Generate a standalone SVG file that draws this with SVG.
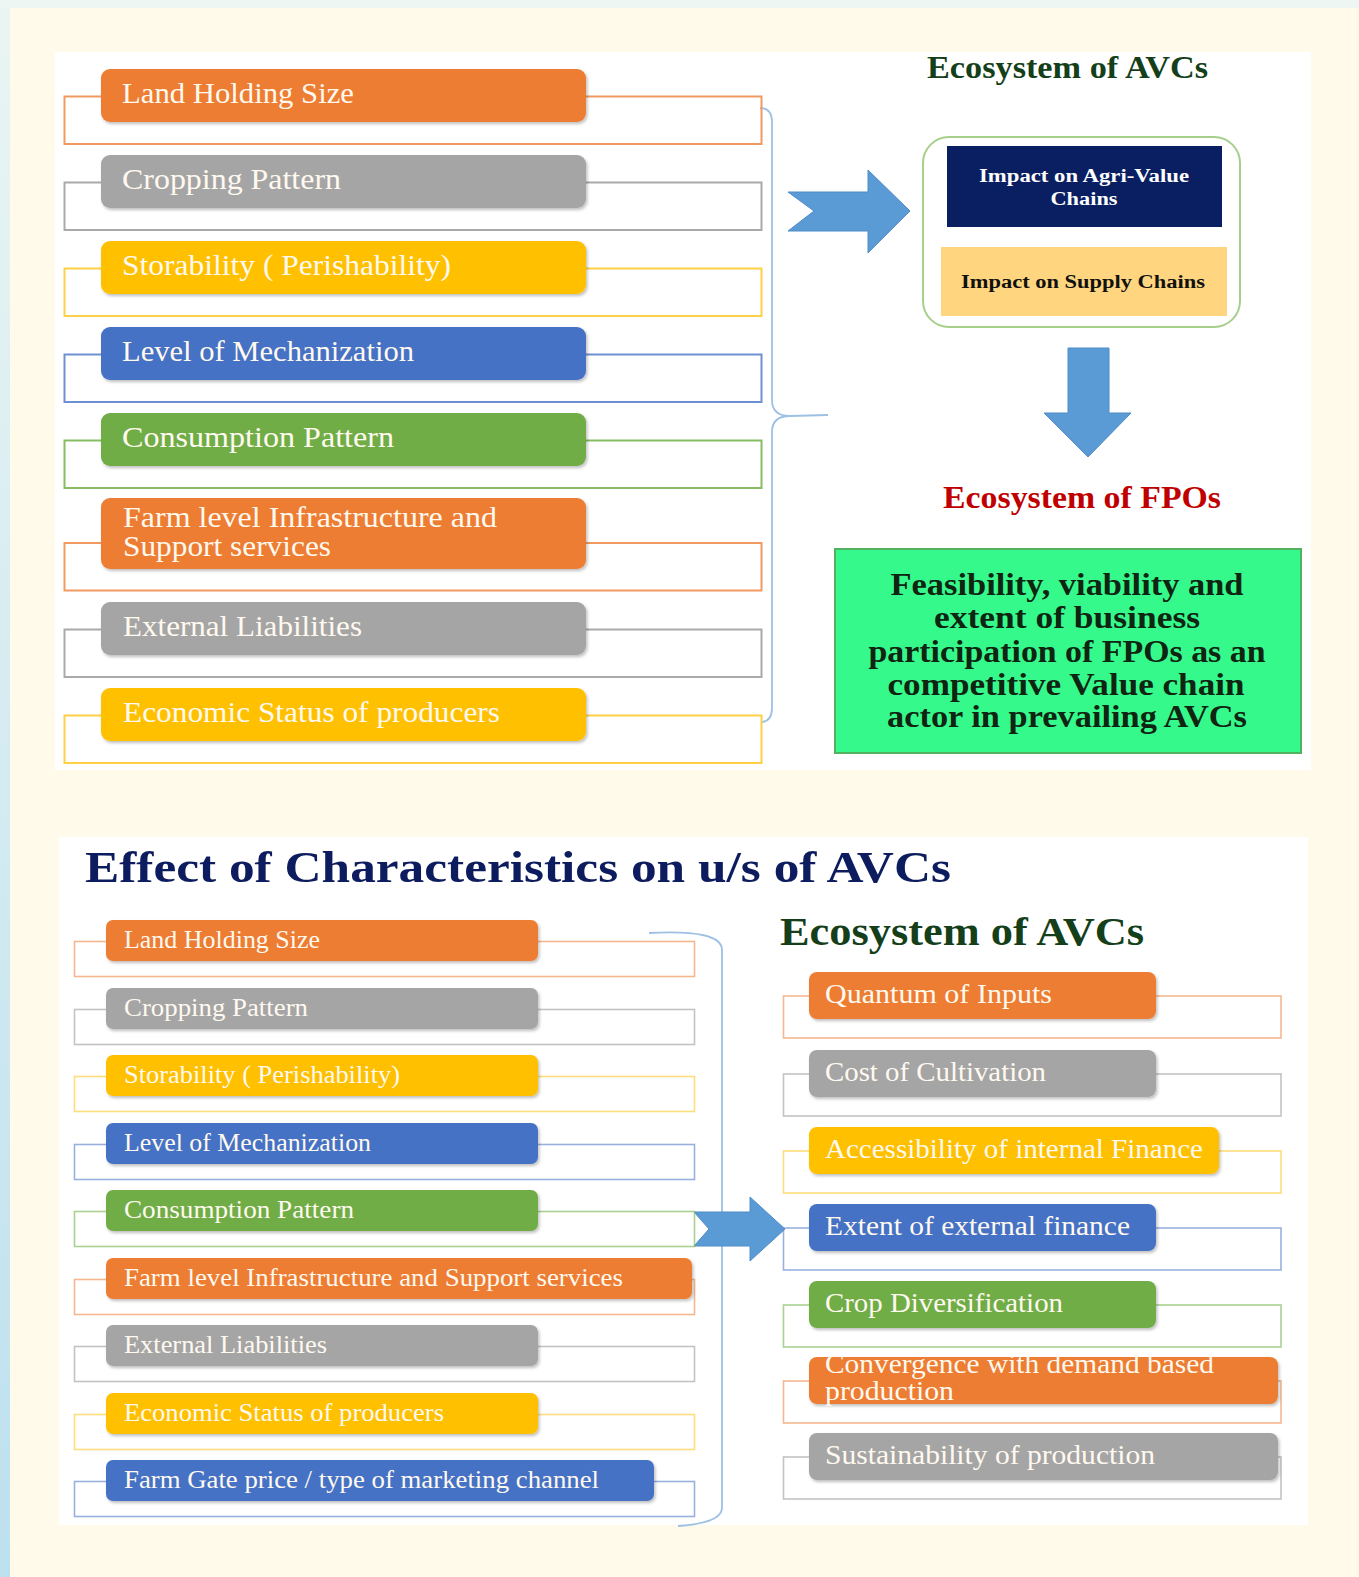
<svg xmlns="http://www.w3.org/2000/svg" width="1359" height="1577" viewBox="0 0 1359 1577">
  <defs>
    <linearGradient id="edge" x1="0" y1="0" x2="0" y2="1">
      <stop offset="0" stop-color="#EAF5F3"/>
      <stop offset="1" stop-color="#BDE0EF"/>
    </linearGradient>
    <filter id="shadow" x="-5%" y="-20%" width="110%" height="150%">
      <feDropShadow dx="1.5" dy="2" stdDeviation="1.5" flood-color="#000" flood-opacity="0.25"/>
    </filter>
    <style>
      .serif { font-family: "Liberation Serif", "Times New Roman", serif; }
      .lbl { font-family: "Liberation Serif", "Times New Roman", serif; fill: #FFF9F0; }
      .bold { font-weight: bold; }
      .p-or { fill: #ED7D31; }
      .p-gr { fill: #A5A5A5; }
      .p-ye { fill: #FFC000; }
      .p-bl { fill: #4472C4; }
      .p-gn { fill: #70AD47; }
      .pill { filter: url(#shadow); }
      .frame { fill: none; stroke-width: 2; }
      .frame2 { fill: none; stroke-width: 1.6; stroke-opacity: 0.7; }
      .s-or { stroke: #F09A62; }
      .s-gr { stroke: #A9A9A9; }
      .s-ye { stroke: #FFCF45; }
      .s-bl { stroke: #6E8FD2; }
      .s-gn { stroke: #86BD62; }
      .brace { fill: none; stroke: #9DC0E4; stroke-width: 1.8; }
      .bigarrow { fill: #5B9BD5; stroke: #4E8CC8; stroke-width: 1; }
    </style>
  </defs>

  <!-- page background -->
  <rect x="0" y="0" width="1359" height="1577" fill="url(#edge)"/>
  <rect x="0" y="0" width="1359" height="8" fill="#EDF6F3"/>
  <rect x="10" y="8" width="1349" height="1569" fill="#FFFAEA"/>

  <!-- white panels -->
  <rect x="55" y="52" width="1256" height="718" fill="#FFFFFF"/>
  <rect x="59" y="837" width="1249" height="688" fill="#FFFFFF"/>

  <!-- connectors: braces and block arrows -->
  <g id="connectors">
    <path class="brace" d="M760,108 Q772,108 772,122 L772,400 Q772,416 790,416 L828,415 M790,416 Q772,416 772,432 L772,708 Q772,721 762,722"/>
    <polygon class="bigarrow" points="788,192 868,192 868,170 910,211 868,253 868,231 788,231 814,211"/>
    <polygon class="bigarrow" points="1068,348 1109,348 1109,413 1131,413 1088,457 1044,413 1068,413"/>
    <path class="brace" d="M649,933 Q722,929 722,950 L722,1508 Q722,1523 678,1526"/>
    <polygon class="bigarrow" points="694,1212 750,1212 750,1197 785,1229 750,1261 750,1246 694,1246 709,1229"/>
  </g>

  <!-- ===== upper panel: characteristics ===== -->
  <g id="top-land">
    <rect class="frame s-or" x="64.5" y="96.5" width="697" height="47.5"/>
    <rect class="pill p-or" x="101" y="69" width="485" height="53" rx="9"/>
    <text class="lbl" x="122" y="103" font-size="29" textLength="232" lengthAdjust="spacingAndGlyphs">Land Holding Size</text>
  </g>
  <g id="top-cropping">
    <rect class="frame s-gr" x="64.5" y="182.5" width="697" height="47.5"/>
    <rect class="pill p-gr" x="101" y="155" width="485" height="53" rx="9"/>
    <text class="lbl" x="122" y="189" font-size="29" textLength="219" lengthAdjust="spacingAndGlyphs">Cropping Pattern</text>
  </g>
  <g id="top-storability">
    <rect class="frame s-ye" x="64.5" y="268.5" width="697" height="47.5"/>
    <rect class="pill p-ye" x="101" y="241" width="485" height="53" rx="9"/>
    <text class="lbl" x="122" y="275" font-size="29" textLength="329" lengthAdjust="spacingAndGlyphs">Storability ( Perishability)</text>
  </g>
  <g id="top-mechanization">
    <rect class="frame s-bl" x="64.5" y="354.5" width="697" height="47.5"/>
    <rect class="pill p-bl" x="101" y="327" width="485" height="53" rx="9"/>
    <text class="lbl" x="122" y="361" font-size="29" textLength="292" lengthAdjust="spacingAndGlyphs">Level of Mechanization</text>
  </g>
  <g id="top-consumption">
    <rect class="frame s-gn" x="64.5" y="440.5" width="697" height="47.5"/>
    <rect class="pill p-gn" x="101" y="413" width="485" height="53" rx="9"/>
    <text class="lbl" x="122" y="447" font-size="29" textLength="272" lengthAdjust="spacingAndGlyphs">Consumption Pattern</text>
  </g>
  <g id="top-infrastructure">
    <rect class="frame s-or" x="64.5" y="543" width="697" height="47.5"/>
    <rect class="pill p-or" x="101" y="498" width="485" height="71" rx="9"/>
    <text class="lbl" x="123" y="527" font-size="29" textLength="374" lengthAdjust="spacingAndGlyphs">Farm level Infrastructure and</text>
    <text class="lbl" x="123" y="556" font-size="29" textLength="208" lengthAdjust="spacingAndGlyphs">Support services</text>
  </g>
  <g id="top-liabilities">
    <rect class="frame s-gr" x="64.5" y="629.5" width="697" height="47.5"/>
    <rect class="pill p-gr" x="101" y="602" width="485" height="53" rx="9"/>
    <text class="lbl" x="123" y="636" font-size="29" textLength="239" lengthAdjust="spacingAndGlyphs">External Liabilities</text>
  </g>
  <g id="top-economic">
    <rect class="frame s-ye" x="64.5" y="715.5" width="697" height="47.5"/>
    <rect class="pill p-ye" x="101" y="688" width="485" height="53" rx="9"/>
    <text class="lbl" x="123" y="722" font-size="29" textLength="377" lengthAdjust="spacingAndGlyphs">Economic Status of producers</text>
  </g>

  <!-- ===== upper panel: right side ===== -->
  <g id="top-ecosystem-avcs">
    <text class="serif bold" x="927" y="78" font-size="32" fill="#153F1A" textLength="281" lengthAdjust="spacingAndGlyphs">Ecosystem of AVCs</text>
  </g>
  <g id="impact-box">
    <rect x="923" y="137" width="317" height="190" rx="26" fill="#FFFFFF" stroke="#A6CF8B" stroke-width="2"/>
    <rect x="947" y="146" width="275" height="81" fill="#0A1F62"/>
    <text class="serif bold" x="1084" y="182" font-size="18" fill="#FFFFFF" text-anchor="middle" textLength="210" lengthAdjust="spacingAndGlyphs">Impact on Agri-Value</text>
    <text class="serif bold" x="1084" y="205" font-size="18" fill="#FFFFFF" text-anchor="middle" textLength="67" lengthAdjust="spacingAndGlyphs">Chains</text>
    <rect x="941" y="247" width="286" height="69" fill="#FFD67F"/>
    <text class="serif bold" x="1083" y="288" font-size="18" fill="#111111" text-anchor="middle" textLength="244" lengthAdjust="spacingAndGlyphs">Impact on Supply Chains</text>
  </g>
  <g id="top-ecosystem-fpos">
    <text class="serif bold" x="943" y="508" font-size="32" fill="#C00000" textLength="278" lengthAdjust="spacingAndGlyphs">Ecosystem of FPOs</text>
  </g>
  <g id="feasibility-box">
    <rect x="835" y="549" width="466" height="204" fill="#35FA8B" stroke="#53B15F" stroke-width="2"/>
    <g class="serif bold" font-size="31" fill="#0F2411" text-anchor="middle">
      <text x="1067" y="595" textLength="353" lengthAdjust="spacingAndGlyphs">Feasibility, viability and</text>
      <text x="1067" y="628" textLength="266" lengthAdjust="spacingAndGlyphs">extent of business</text>
      <text x="1067" y="662" textLength="397" lengthAdjust="spacingAndGlyphs">participation of FPOs as an</text>
      <text x="1066" y="695" textLength="357" lengthAdjust="spacingAndGlyphs">competitive Value chain</text>
      <text x="1067" y="727" textLength="360" lengthAdjust="spacingAndGlyphs">actor in prevailing AVCs</text>
    </g>
  </g>

  <!-- ===== lower panel ===== -->
  <g id="bottom-title">
    <text class="serif bold" x="85" y="882" font-size="45" fill="#0C1C5E" textLength="866" lengthAdjust="spacingAndGlyphs">Effect of Characteristics on u/s of AVCs</text>
  </g>

  <g id="b-land">
    <rect class="frame2 s-or" x="74.5" y="941.5" width="620" height="35"/>
    <rect class="pill p-or" x="106" y="920" width="432" height="41" rx="7"/>
    <text class="lbl" x="124" y="948" font-size="25" textLength="196" lengthAdjust="spacingAndGlyphs">Land Holding Size</text>
  </g>
  <g id="b-cropping">
    <rect class="frame2 s-gr" x="74.5" y="1009.5" width="620" height="35"/>
    <rect class="pill p-gr" x="106" y="988" width="432" height="41" rx="7"/>
    <text class="lbl" x="124" y="1016" font-size="25" textLength="184" lengthAdjust="spacingAndGlyphs">Cropping Pattern</text>
  </g>
  <g id="b-storability">
    <rect class="frame2 s-ye" x="74.5" y="1076.5" width="620" height="35"/>
    <rect class="pill p-ye" x="106" y="1055" width="432" height="41" rx="7"/>
    <text class="lbl" x="124" y="1083" font-size="25" textLength="276" lengthAdjust="spacingAndGlyphs">Storability ( Perishability)</text>
  </g>
  <g id="b-mechanization">
    <rect class="frame2 s-bl" x="74.5" y="1144.5" width="620" height="35"/>
    <rect class="pill p-bl" x="106" y="1123" width="432" height="41" rx="7"/>
    <text class="lbl" x="124" y="1151" font-size="25" textLength="247" lengthAdjust="spacingAndGlyphs">Level of Mechanization</text>
  </g>
  <g id="b-consumption">
    <rect class="frame2 s-gn" x="74.5" y="1211.5" width="620" height="35"/>
    <rect class="pill p-gn" x="106" y="1190" width="432" height="41" rx="7"/>
    <text class="lbl" x="124" y="1218" font-size="25" textLength="230" lengthAdjust="spacingAndGlyphs">Consumption Pattern</text>
  </g>
  <g id="b-infrastructure">
    <rect class="frame2 s-or" x="74.5" y="1279.5" width="620" height="35"/>
    <rect class="pill p-or" x="106" y="1258" width="586" height="41" rx="7"/>
    <text class="lbl" x="124" y="1286" font-size="25" textLength="499" lengthAdjust="spacingAndGlyphs">Farm level Infrastructure and Support services</text>
  </g>
  <g id="b-liabilities">
    <rect class="frame2 s-gr" x="74.5" y="1346.5" width="620" height="35"/>
    <rect class="pill p-gr" x="106" y="1325" width="432" height="41" rx="7"/>
    <text class="lbl" x="124" y="1353" font-size="25" textLength="203" lengthAdjust="spacingAndGlyphs">External Liabilities</text>
  </g>
  <g id="b-economic">
    <rect class="frame2 s-ye" x="74.5" y="1414.5" width="620" height="35"/>
    <rect class="pill p-ye" x="106" y="1393" width="432" height="41" rx="7"/>
    <text class="lbl" x="124" y="1421" font-size="25" textLength="320" lengthAdjust="spacingAndGlyphs">Economic Status of producers</text>
  </g>
  <g id="b-farmgate">
    <rect class="frame2 s-bl" x="74.5" y="1481.5" width="620" height="35"/>
    <rect class="pill p-bl" x="106" y="1460" width="548" height="41" rx="7"/>
    <text class="lbl" x="124" y="1488" font-size="25" textLength="475" lengthAdjust="spacingAndGlyphs">Farm Gate price / type of marketing channel</text>
  </g>

  <g id="bottom-ecosystem-avcs">
    <text class="serif bold" x="780" y="945" font-size="40" fill="#153F1A" textLength="364" lengthAdjust="spacingAndGlyphs">Ecosystem of AVCs</text>
  </g>

  <g id="r-inputs">
    <rect class="frame2 s-or" x="783.5" y="996" width="497.5" height="42"/>
    <rect class="pill p-or" x="809" y="972" width="347" height="47" rx="8"/>
    <text class="lbl" x="825" y="1003" font-size="27" textLength="227" lengthAdjust="spacingAndGlyphs">Quantum of Inputs</text>
  </g>
  <g id="r-cultivation">
    <rect class="frame2 s-gr" x="783.5" y="1074" width="497.5" height="42"/>
    <rect class="pill p-gr" x="809" y="1050" width="347" height="47" rx="8"/>
    <text class="lbl" x="825" y="1081" font-size="27" textLength="221" lengthAdjust="spacingAndGlyphs">Cost of Cultivation</text>
  </g>
  <g id="r-internal-finance">
    <rect class="frame2 s-ye" x="783.5" y="1151" width="497.5" height="42"/>
    <rect class="pill p-ye" x="809" y="1127" width="410" height="47" rx="8"/>
    <text class="lbl" x="825" y="1158" font-size="27" textLength="378" lengthAdjust="spacingAndGlyphs">Accessibility of internal Finance</text>
  </g>
  <g id="r-external-finance">
    <rect class="frame2 s-bl" x="783.5" y="1228" width="497.5" height="42"/>
    <rect class="pill p-bl" x="809" y="1204" width="347" height="47" rx="8"/>
    <text class="lbl" x="825" y="1235" font-size="27" textLength="305" lengthAdjust="spacingAndGlyphs">Extent of external finance</text>
  </g>
  <g id="r-diversification">
    <rect class="frame2 s-gn" x="783.5" y="1305" width="497.5" height="42"/>
    <rect class="pill p-gn" x="809" y="1281" width="347" height="47" rx="8"/>
    <text class="lbl" x="825" y="1312" font-size="27" textLength="238" lengthAdjust="spacingAndGlyphs">Crop Diversification</text>
  </g>
  <g id="r-convergence">
    <rect class="frame2 s-or" x="783.5" y="1381" width="497.5" height="42"/>
    <rect class="pill p-or" x="809" y="1357" width="469" height="47" rx="8"/>
    <text class="lbl" x="825" y="1373" font-size="27" textLength="389" lengthAdjust="spacingAndGlyphs">Convergence with demand based</text>
    <text class="lbl" x="825" y="1400" font-size="27" textLength="129" lengthAdjust="spacingAndGlyphs">production</text>
  </g>
  <g id="r-sustainability">
    <rect class="frame2 s-gr" x="783.5" y="1457" width="497.5" height="42"/>
    <rect class="pill p-gr" x="809" y="1433" width="469" height="47" rx="8"/>
    <text class="lbl" x="825" y="1464" font-size="27" textLength="330" lengthAdjust="spacingAndGlyphs">Sustainability of production</text>
  </g>
</svg>
